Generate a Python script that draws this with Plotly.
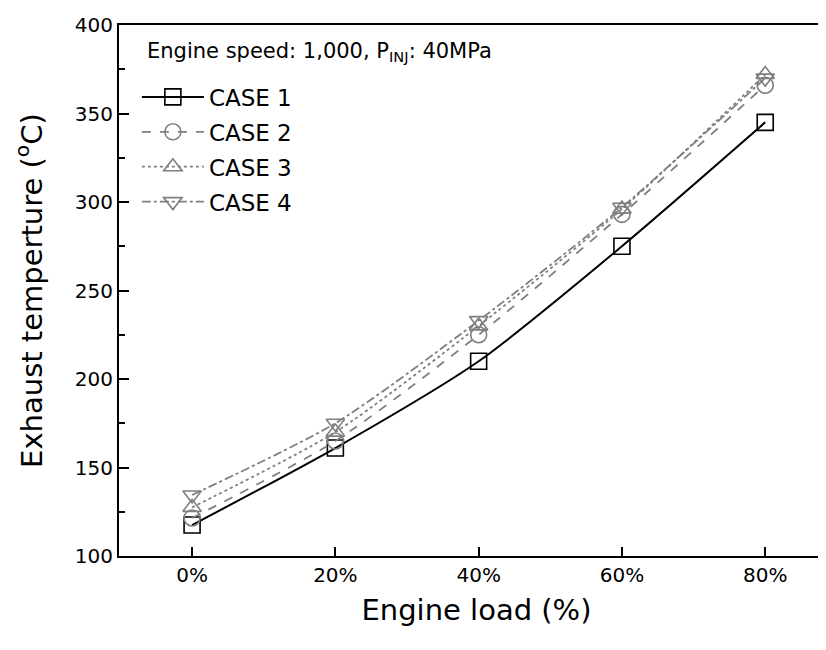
import plotly.graph_objects as go

loads = [0, 20, 40, 60, 80]
tick_labels = ["0%", "20%", "40%", "60%", "80%"]
case1 = [117.5, 161, 210, 275, 345]
case2 = [121.5, 165, 225, 293, 366]
case3 = [127.5, 170, 230, 296, 372]
case4 = [134.5, 175, 233, 297, 370]

FONT = "DejaVu Sans, Verdana, sans-serif"
GREY = "#7f7f7f"

series = [
    ("CASE 1", case1, "black", "solid", "square-open"),
    ("CASE 2", case2, GREY, "dash", "circle-open"),
    ("CASE 3", case3, GREY, "dot", "triangle-up-open"),
    ("CASE 4", case4, GREY, "dashdot", "triangle-down-open"),
]

fig = go.Figure()
for name, vals, color, dash, symbol in series:
    fig.add_trace(go.Scatter(
        x=loads, y=vals, name=name, mode="lines+markers",
        line=dict(color=color, width=2 if color == "black" else 1.8, dash=dash, shape="spline", smoothing=0.7),
        marker=dict(symbol=symbol, size=16, color=color, line=dict(color=color, width=1.6)),
        legendgroup=name,
    ))

# the page body adds an 8px margin; the right frame edge is cut off in the original
fig.add_annotation(
    text="Engine speed: 1,000, P<sub>INJ</sub>: 40MPa",
    xref="paper", yref="paper", x=0.037, y=0.95, xanchor="left", yanchor="middle",
    showarrow=False, font=dict(family=FONT, size=21, color="black"),
)

fig.update_layout(
    width=826, height=650,
    margin=dict(l=111, r=0, t=17, b=102),
    plot_bgcolor="white", paper_bgcolor="white",
    font=dict(family=FONT, color="black"),
    showlegend=True,
    legend=dict(
        x=0.025, y=0.905, xanchor="left", yanchor="top",
        font=dict(family=FONT, size=23, color="black"),
        bgcolor="rgba(0,0,0,0)", traceorder="grouped", tracegroupgap=2,
        itemwidth=62,
    ),
    xaxis=dict(
        range=[-10.2, 89.6], tickvals=loads, ticktext=tick_labels,
        ticks="inside", ticklen=9, tickwidth=2, tickcolor="black",
        showline=True, linecolor="black", linewidth=2, mirror=True,
        showgrid=False, zeroline=False, automargin=False,
        tickfont=dict(family=FONT, size=20),
        title=dict(text="Engine load (%)", font=dict(family=FONT, size=29), standoff=14),
    ),
    yaxis=dict(
        range=[100, 400], dtick=50,
        ticks="inside", ticklen=10, tickwidth=2, tickcolor="black",
        minor=dict(dtick=25, ticks="inside", ticklen=6, tickwidth=2, tickcolor="black"),
        showline=True, linecolor="black", linewidth=2, mirror=False,
        showgrid=False, zeroline=False, automargin=False,
        tickfont=dict(family=FONT, size=20),
        title=dict(text="Exhaust temperture (<sup>o</sup>C)", font=dict(family=FONT, size=29), standoff=24),
    ),
)

fig.write_html("out.html")
